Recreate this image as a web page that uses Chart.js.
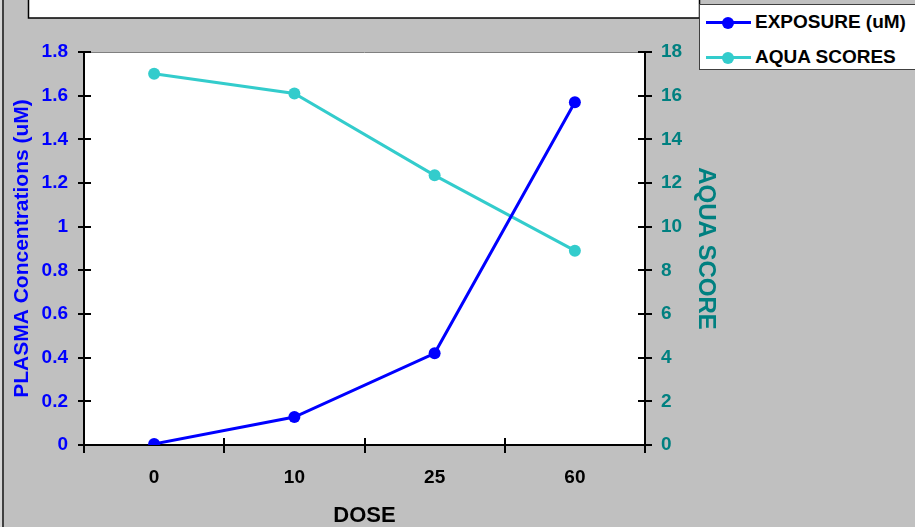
<!DOCTYPE html>
<html>
<head>
<meta charset="utf-8">
<script src="https://cdn.jsdelivr.net/npm/chart.js@4"></script>
<style>
  html, body { margin: 0; padding: 0; background: #C0C0C0; overflow: hidden; }
  #wrap { position: relative; width: 915px; height: 527px; }
  #chart { position: absolute; left: 0; top: 0; }
  #legend { position: absolute; left: 699px; top: 4px; width: 230px; height: 66px;
            background: #fff; border: 1px solid #404040; box-sizing: border-box; }
  .row { position: absolute; left: 0; height: 20px; width: 230px; }
  .sw-line { position: absolute; left: 6px; width: 45px; height: 3px; top: 9px; }
  .sw-dot { position: absolute; left: 22px; width: 12px; height: 12px; border-radius: 50%; top: 5px; }
  .lbl { position: absolute; left: 55px; top: -1px; font: bold 19px "Liberation Sans", Arial, sans-serif;
         color: #000; white-space: nowrap; line-height: 22px; }
</style>
</head>
<body>
<div id="wrap">
  <canvas id="chart" width="915" height="527"></canvas>
  <div id="legend"></div>
</div>
<script>
// ---- data ----
const doseLabels = ['0', '10', '25', '60'];
const exposureValues = [0.005, 0.128, 0.42, 1.57];
const aquaValues = [17.0, 16.1, 12.35, 8.9];
const leftTickLabels = ['0', '0.2', '0.4', '0.6', '0.8', '1', '1.2', '1.4', '1.6', '1.8'];
const rightTickLabels = ['0', '2', '4', '6', '8', '10', '12', '14', '16', '18'];
const seriesNames = ['EXPOSURE (uM)', 'AQUA SCORES'];
const seriesColors = ['#0000FF', '#33CCCC'];

const FONT = '"Liberation Sans", Arial, sans-serif';

// legend (HTML)
const legend = document.getElementById('legend');
seriesNames.forEach((name, i) => {
  const row = document.createElement('div');
  row.className = 'row';
  row.style.top = (i === 0 ? 7 : 42) + 'px';
  row.innerHTML = '<div class="sw-line" style="background:' + seriesColors[i] + '"></div>' +
                  '<div class="sw-dot" style="background:' + seriesColors[i] + '"></div>' +
                  '<div class="lbl">' + name + '</div>';
  legend.appendChild(row);
});

const decor = {
  id: 'decor',
  beforeDraw(chart) {
    const ctx = chart.ctx, a = chart.chartArea;
    ctx.save();
    ctx.fillStyle = '#C0C0C0';
    ctx.fillRect(0, 0, chart.width, chart.height);
    // left edge strip
    ctx.fillStyle = '#D6D6D6';
    ctx.fillRect(0, 0, 2, chart.height);
    ctx.fillStyle = '#404040';
    ctx.fillRect(2, 0, 2, chart.height);
    // title box
    ctx.fillStyle = '#fff';
    ctx.fillRect(28, -2, 672, 20);
    ctx.strokeStyle = '#000';
    ctx.lineWidth = 1.5;
    ctx.strokeRect(28.5, -2, 671, 20);
    // plot area
    ctx.fillStyle = '#fff';
    ctx.fillRect(a.left, a.top, a.right - a.left, a.bottom - a.top);
    ctx.strokeStyle = '#808080';
    ctx.lineWidth = 1;
    ctx.beginPath();
    ctx.moveTo(a.left, a.top + 0.5);
    ctx.lineTo(a.right, a.top + 0.5);
    ctx.stroke();
    ctx.restore();
  },
  beforeDatasetsDraw(chart) {
    const ctx = chart.ctx, a = chart.chartArea;
    const y = chart.scales.y, y1 = chart.scales.y1, x = chart.scales.x;
    ctx.save();
    ctx.strokeStyle = '#000';
    ctx.lineWidth = 2;
    ctx.beginPath();
    y.ticks.forEach((t, i) => {
      const p = Math.round(y.getPixelForTick(i));
      ctx.moveTo(a.left - 6, p); ctx.lineTo(a.left + 7, p);
    });
    y1.ticks.forEach((t, i) => {
      const p = Math.round(y1.getPixelForTick(i));
      ctx.moveTo(a.right - 7, p); ctx.lineTo(a.right + 7, p);
    });
    for (let i = 0; i <= doseLabels.length; i++) {
      const p = Math.round(x.getPixelForValue(i - 0.5));
      ctx.moveTo(p, a.bottom - 7); ctx.lineTo(p, a.bottom + 8);
    }
    ctx.stroke();
    ctx.restore();
  }
};

new Chart(document.getElementById('chart'), {
  type: 'line',
  data: {
    labels: doseLabels,
    datasets: [
      {
        label: seriesNames[0], data: exposureValues, yAxisID: 'y',
        borderColor: seriesColors[0], backgroundColor: seriesColors[0],
        borderWidth: 3, pointRadius: 6, pointHoverRadius: 6, pointBorderWidth: 0, tension: 0
      },
      {
        label: seriesNames[1], data: aquaValues, yAxisID: 'y1',
        borderColor: seriesColors[1], backgroundColor: seriesColors[1],
        borderWidth: 3, pointRadius: 6, pointHoverRadius: 6, pointBorderWidth: 0, tension: 0
      }
    ]
  },
  options: {
    responsive: false,
    animation: false,
    devicePixelRatio: 1,
    layout: { padding: { top: 52, left: 0, right: 0, bottom: 0 } },
    plugins: { legend: { display: false }, tooltip: { enabled: false }, title: { display: false } },
    scales: {
      x: {
        type: 'category',
        offset: true,
        grid: { display: false, drawTicks: false, offset: true },
        border: { display: true, color: '#000', width: 2 },
        ticks: { color: '#000', padding: 21, font: { family: FONT, size: 19, weight: 'bold' } },
        title: { display: true, text: 'DOSE', color: '#000',
                 font: { family: FONT, size: 22, weight: 'bold', lineHeight: 1 },
                 padding: { top: 0, bottom: 0 } },
        afterFit(s) { s.height = 82; }
      },
      y: {
        position: 'left',
        min: 0, max: 1.8,
        grid: { display: false, drawTicks: false },
        border: { display: true, color: '#000', width: 2 },
        ticks: { stepSize: 0.2, color: '#0000FF', padding: 16,
                 font: { family: FONT, size: 19, weight: 'bold' },
                 callback: (v, i) => leftTickLabels[i] },
        title: { display: true, text: 'PLASMA Concentrations (uM)', color: '#0000FF',
                 font: { family: FONT, size: 21, weight: 'bold', lineHeight: 1 },
                 padding: { top: 12, bottom: 0 } },
        afterFit(s) { s.width = 84; }
      },
      y1: {
        position: 'right',
        min: 0, max: 18,
        grid: { display: false, drawTicks: false },
        border: { display: true, color: '#000', width: 2 },
        ticks: { stepSize: 2, color: '#008080', padding: 16,
                 font: { family: FONT, size: 19, weight: 'bold' },
                 callback: (v, i) => rightTickLabels[i] },
        title: { display: true, text: 'AQUA SCORE', color: '#008080',
                 font: { family: FONT, size: 24, weight: 'bold', lineHeight: 1 },
                 padding: { top: 197, bottom: 0 } },
        afterFit(s) { s.width = 270; }
      }
    }
  },
  plugins: [decor]
});
</script>
</body>
</html>
